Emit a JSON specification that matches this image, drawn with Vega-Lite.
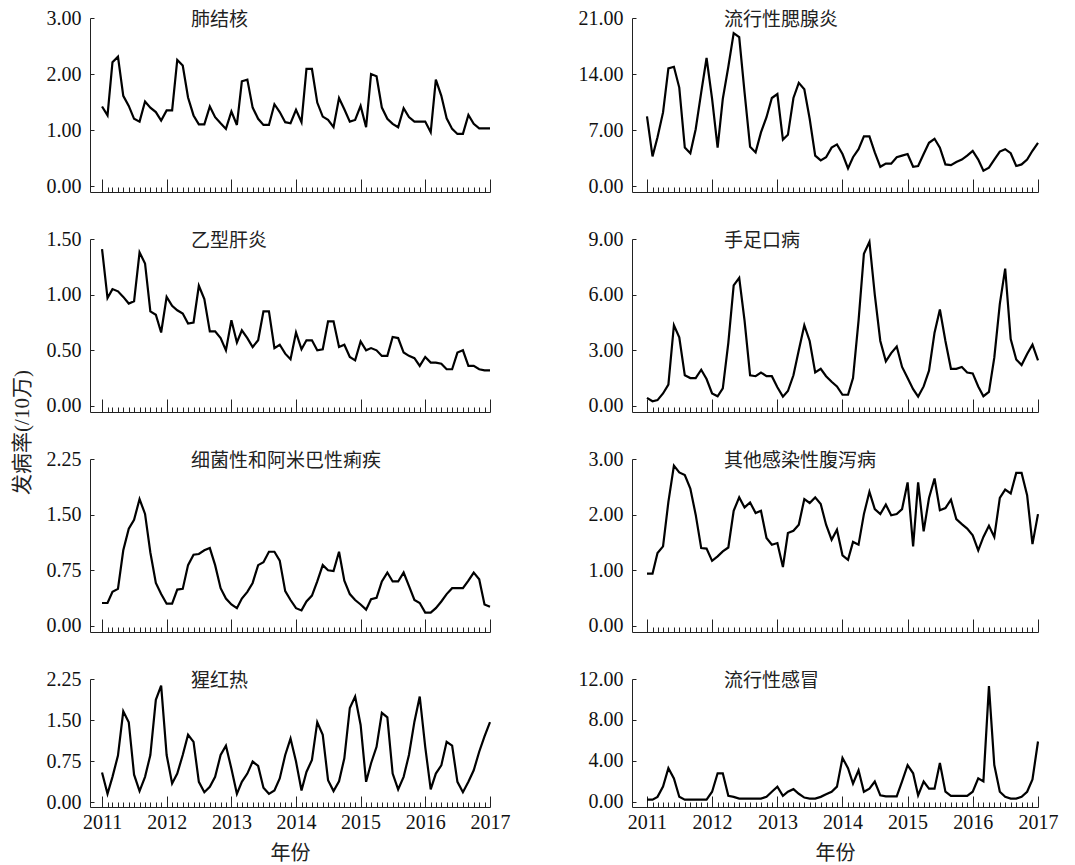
{
  "$schema": "https://vega.github.io/schema/vega-lite/v6.json",
  "background": "white",
  "padding": {"left": 11, "top": 8, "right": 5, "bottom": 0},
  "config": {
    "view": {"stroke": null},
    "font": "Liberation Serif, Times New Roman, serif",
    "axis": {"grid": false, "domainColor": "#222", "tickColor": "#222", "domainWidth": 1, "tickWidth": 1, "labelColor": "#111", "labelFont": "Liberation Serif, Times New Roman, serif", "labelFontSize": 20, "titleFont": "Liberation Serif, Noto Sans CJK SC", "titleFontSize": 20, "titleFontWeight": "normal", "titleColor": "#222"},
    "title": {"font": "Noto Sans CJK SC", "fontSize": 19, "fontWeight": "normal", "color": "#222", "anchor": "start", "frame": "group", "offset": -22, "baseline": "alphabetic"},
    "line": {"color": "black", "strokeWidth": 2.2}
  },
  "datasets": {
    "fjh": [
      {"t":"2011-01","v":1.42},{"t":"2011-02","v":1.26},{"t":"2011-03","v":2.21},{"t":"2011-04","v":2.31},{"t":"2011-05","v":1.61},{"t":"2011-06","v":1.43},{"t":"2011-07","v":1.20},{"t":"2011-08","v":1.15},{"t":"2011-09","v":1.51},{"t":"2011-10","v":1.40},{"t":"2011-11","v":1.32},{"t":"2011-12","v":1.17},
      {"t":"2012-01","v":1.35},{"t":"2012-02","v":1.35},{"t":"2012-03","v":2.25},{"t":"2012-04","v":2.15},{"t":"2012-05","v":1.58},{"t":"2012-06","v":1.26},{"t":"2012-07","v":1.10},{"t":"2012-08","v":1.10},{"t":"2012-09","v":1.42},{"t":"2012-10","v":1.23},{"t":"2012-11","v":1.12},{"t":"2012-12","v":1.02},
      {"t":"2013-01","v":1.33},{"t":"2013-02","v":1.09},{"t":"2013-03","v":1.87},{"t":"2013-04","v":1.90},{"t":"2013-05","v":1.40},{"t":"2013-06","v":1.20},{"t":"2013-07","v":1.09},{"t":"2013-08","v":1.09},{"t":"2013-09","v":1.46},{"t":"2013-10","v":1.32},{"t":"2013-11","v":1.14},{"t":"2013-12","v":1.12},
      {"t":"2014-01","v":1.36},{"t":"2014-02","v":1.14},{"t":"2014-03","v":2.09},{"t":"2014-04","v":2.09},{"t":"2014-05","v":1.49},{"t":"2014-06","v":1.24},{"t":"2014-07","v":1.18},{"t":"2014-08","v":1.05},{"t":"2014-09","v":1.57},{"t":"2014-10","v":1.37},{"t":"2014-11","v":1.15},{"t":"2014-12","v":1.18},
      {"t":"2015-01","v":1.43},{"t":"2015-02","v":1.05},{"t":"2015-03","v":2.00},{"t":"2015-04","v":1.96},{"t":"2015-05","v":1.40},{"t":"2015-06","v":1.20},{"t":"2015-07","v":1.11},{"t":"2015-08","v":1.05},{"t":"2015-09","v":1.39},{"t":"2015-10","v":1.23},{"t":"2015-11","v":1.15},{"t":"2015-12","v":1.15},
      {"t":"2016-01","v":1.15},{"t":"2016-02","v":0.96},{"t":"2016-03","v":1.90},{"t":"2016-04","v":1.61},{"t":"2016-05","v":1.21},{"t":"2016-06","v":1.02},{"t":"2016-07","v":0.93},{"t":"2016-08","v":0.93},{"t":"2016-09","v":1.27},{"t":"2016-10","v":1.11},{"t":"2016-11","v":1.03},{"t":"2016-12","v":1.03},
      {"t":"2017-01","v":1.03}
    ],
    "lx": [
      {"t":"2011-01","v":8.7},{"t":"2011-02","v":3.7},{"t":"2011-03","v":6.1},{"t":"2011-04","v":9.2},{"t":"2011-05","v":14.7},{"t":"2011-06","v":14.9},{"t":"2011-07","v":12.3},{"t":"2011-08","v":4.8},{"t":"2011-09","v":4.1},{"t":"2011-10","v":7.1},{"t":"2011-11","v":11.7},{"t":"2011-12","v":16.0},
      {"t":"2012-01","v":10.9},{"t":"2012-02","v":4.8},{"t":"2012-03","v":10.9},{"t":"2012-04","v":14.9},{"t":"2012-05","v":19.1},{"t":"2012-06","v":18.6},{"t":"2012-07","v":11.7},{"t":"2012-08","v":4.9},{"t":"2012-09","v":4.2},{"t":"2012-10","v":6.7},{"t":"2012-11","v":8.6},{"t":"2012-12","v":11.0},
      {"t":"2013-01","v":11.5},{"t":"2013-02","v":5.8},{"t":"2013-03","v":6.4},{"t":"2013-04","v":11.0},{"t":"2013-05","v":12.9},{"t":"2013-06","v":12.1},{"t":"2013-07","v":8.4},{"t":"2013-08","v":3.8},{"t":"2013-09","v":3.2},{"t":"2013-10","v":3.6},{"t":"2013-11","v":4.8},{"t":"2013-12","v":5.2},
      {"t":"2014-01","v":4.0},{"t":"2014-02","v":2.2},{"t":"2014-03","v":3.6},{"t":"2014-04","v":4.6},{"t":"2014-05","v":6.2},{"t":"2014-06","v":6.2},{"t":"2014-07","v":4.2},{"t":"2014-08","v":2.4},{"t":"2014-09","v":2.8},{"t":"2014-10","v":2.8},{"t":"2014-11","v":3.6},{"t":"2014-12","v":3.8},
      {"t":"2015-01","v":4.0},{"t":"2015-02","v":2.4},{"t":"2015-03","v":2.5},{"t":"2015-04","v":4.0},{"t":"2015-05","v":5.4},{"t":"2015-06","v":5.9},{"t":"2015-07","v":4.8},{"t":"2015-08","v":2.7},{"t":"2015-09","v":2.6},{"t":"2015-10","v":3.0},{"t":"2015-11","v":3.3},{"t":"2015-12","v":3.8},
      {"t":"2016-01","v":4.4},{"t":"2016-02","v":3.3},{"t":"2016-03","v":1.9},{"t":"2016-04","v":2.3},{"t":"2016-05","v":3.3},{"t":"2016-06","v":4.3},{"t":"2016-07","v":4.6},{"t":"2016-08","v":4.1},{"t":"2016-09","v":2.5},{"t":"2016-10","v":2.7},{"t":"2016-11","v":3.3},{"t":"2016-12","v":4.4},
      {"t":"2017-01","v":5.4}
    ],
    "yx": [
      {"t":"2011-01","v":1.41},{"t":"2011-02","v":0.97},{"t":"2011-03","v":1.05},{"t":"2011-04","v":1.03},{"t":"2011-05","v":0.98},{"t":"2011-06","v":0.92},{"t":"2011-07","v":0.94},{"t":"2011-08","v":1.38},{"t":"2011-09","v":1.28},{"t":"2011-10","v":0.85},{"t":"2011-11","v":0.82},{"t":"2011-12","v":0.66},
      {"t":"2012-01","v":0.98},{"t":"2012-02","v":0.90},{"t":"2012-03","v":0.86},{"t":"2012-04","v":0.83},{"t":"2012-05","v":0.74},{"t":"2012-06","v":0.75},{"t":"2012-07","v":1.08},{"t":"2012-08","v":0.96},{"t":"2012-09","v":0.67},{"t":"2012-10","v":0.67},{"t":"2012-11","v":0.61},{"t":"2012-12","v":0.50},
      {"t":"2013-01","v":0.77},{"t":"2013-02","v":0.57},{"t":"2013-03","v":0.68},{"t":"2013-04","v":0.61},{"t":"2013-05","v":0.53},{"t":"2013-06","v":0.59},{"t":"2013-07","v":0.85},{"t":"2013-08","v":0.85},{"t":"2013-09","v":0.52},{"t":"2013-10","v":0.55},{"t":"2013-11","v":0.47},{"t":"2013-12","v":0.42},
      {"t":"2014-01","v":0.66},{"t":"2014-02","v":0.51},{"t":"2014-03","v":0.59},{"t":"2014-04","v":0.59},{"t":"2014-05","v":0.50},{"t":"2014-06","v":0.51},{"t":"2014-07","v":0.76},{"t":"2014-08","v":0.76},{"t":"2014-09","v":0.53},{"t":"2014-10","v":0.55},{"t":"2014-11","v":0.44},{"t":"2014-12","v":0.41},
      {"t":"2015-01","v":0.58},{"t":"2015-02","v":0.50},{"t":"2015-03","v":0.52},{"t":"2015-04","v":0.50},{"t":"2015-05","v":0.45},{"t":"2015-06","v":0.45},{"t":"2015-07","v":0.62},{"t":"2015-08","v":0.61},{"t":"2015-09","v":0.48},{"t":"2015-10","v":0.45},{"t":"2015-11","v":0.43},{"t":"2015-12","v":0.36},
      {"t":"2016-01","v":0.44},{"t":"2016-02","v":0.39},{"t":"2016-03","v":0.39},{"t":"2016-04","v":0.38},{"t":"2016-05","v":0.33},{"t":"2016-06","v":0.33},{"t":"2016-07","v":0.48},{"t":"2016-08","v":0.50},{"t":"2016-09","v":0.36},{"t":"2016-10","v":0.36},{"t":"2016-11","v":0.33},{"t":"2016-12","v":0.32},
      {"t":"2017-01","v":0.32}
    ],
    "sz": [
      {"t":"2011-01","v":0.43},{"t":"2011-02","v":0.25},{"t":"2011-03","v":0.31},{"t":"2011-04","v":0.67},{"t":"2011-05","v":1.15},{"t":"2011-06","v":4.35},{"t":"2011-07","v":3.7},{"t":"2011-08","v":1.65},{"t":"2011-09","v":1.5},{"t":"2011-10","v":1.5},{"t":"2011-11","v":1.95},{"t":"2011-12","v":1.45},
      {"t":"2012-01","v":0.67},{"t":"2012-02","v":0.52},{"t":"2012-03","v":0.95},{"t":"2012-04","v":3.4},{"t":"2012-05","v":6.5},{"t":"2012-06","v":6.9},{"t":"2012-07","v":4.6},{"t":"2012-08","v":1.65},{"t":"2012-09","v":1.6},{"t":"2012-10","v":1.8},{"t":"2012-11","v":1.6},{"t":"2012-12","v":1.6},
      {"t":"2013-01","v":1.0},{"t":"2013-02","v":0.5},{"t":"2013-03","v":0.8},{"t":"2013-04","v":1.65},{"t":"2013-05","v":3.0},{"t":"2013-06","v":4.35},{"t":"2013-07","v":3.5},{"t":"2013-08","v":1.8},{"t":"2013-09","v":2.0},{"t":"2013-10","v":1.6},{"t":"2013-11","v":1.3},{"t":"2013-12","v":1.05},
      {"t":"2014-01","v":0.6},{"t":"2014-02","v":0.6},{"t":"2014-03","v":1.5},{"t":"2014-04","v":4.6},{"t":"2014-05","v":8.2},{"t":"2014-06","v":8.85},{"t":"2014-07","v":6.0},{"t":"2014-08","v":3.5},{"t":"2014-09","v":2.4},{"t":"2014-10","v":2.85},{"t":"2014-11","v":3.2},{"t":"2014-12","v":2.1},
      {"t":"2015-01","v":1.5},{"t":"2015-02","v":0.9},{"t":"2015-03","v":0.5},{"t":"2015-04","v":1.05},{"t":"2015-05","v":1.9},{"t":"2015-06","v":3.95},{"t":"2015-07","v":5.2},{"t":"2015-08","v":3.5},{"t":"2015-09","v":2.0},{"t":"2015-10","v":2.0},{"t":"2015-11","v":2.1},{"t":"2015-12","v":1.8},
      {"t":"2016-01","v":1.75},{"t":"2016-02","v":1.05},{"t":"2016-03","v":0.52},{"t":"2016-04","v":0.75},{"t":"2016-05","v":2.6},{"t":"2016-06","v":5.5},{"t":"2016-07","v":7.4},{"t":"2016-08","v":3.6},{"t":"2016-09","v":2.5},{"t":"2016-10","v":2.2},{"t":"2016-11","v":2.8},{"t":"2016-12","v":3.3},
      {"t":"2017-01","v":2.45}
    ],
    "lj": [
      {"t":"2011-01","v":0.31},{"t":"2011-02","v":0.31},{"t":"2011-03","v":0.46},{"t":"2011-04","v":0.50},{"t":"2011-05","v":1.02},{"t":"2011-06","v":1.31},{"t":"2011-07","v":1.43},{"t":"2011-08","v":1.71},{"t":"2011-09","v":1.51},{"t":"2011-10","v":0.99},{"t":"2011-11","v":0.58},{"t":"2011-12","v":0.43},
      {"t":"2012-01","v":0.30},{"t":"2012-02","v":0.30},{"t":"2012-03","v":0.49},{"t":"2012-04","v":0.50},{"t":"2012-05","v":0.82},{"t":"2012-06","v":0.96},{"t":"2012-07","v":0.97},{"t":"2012-08","v":1.02},{"t":"2012-09","v":1.05},{"t":"2012-10","v":0.82},{"t":"2012-11","v":0.51},{"t":"2012-12","v":0.37},
      {"t":"2013-01","v":0.29},{"t":"2013-02","v":0.24},{"t":"2013-03","v":0.37},{"t":"2013-04","v":0.46},{"t":"2013-05","v":0.58},{"t":"2013-06","v":0.82},{"t":"2013-07","v":0.86},{"t":"2013-08","v":1.00},{"t":"2013-09","v":1.00},{"t":"2013-10","v":0.88},{"t":"2013-11","v":0.47},{"t":"2013-12","v":0.35},
      {"t":"2014-01","v":0.24},{"t":"2014-02","v":0.21},{"t":"2014-03","v":0.33},{"t":"2014-04","v":0.41},{"t":"2014-05","v":0.60},{"t":"2014-06","v":0.82},{"t":"2014-07","v":0.75},{"t":"2014-08","v":0.74},{"t":"2014-09","v":1.00},{"t":"2014-10","v":0.61},{"t":"2014-11","v":0.43},{"t":"2014-12","v":0.35},
      {"t":"2015-01","v":0.29},{"t":"2015-02","v":0.22},{"t":"2015-03","v":0.36},{"t":"2015-04","v":0.38},{"t":"2015-05","v":0.60},{"t":"2015-06","v":0.72},{"t":"2015-07","v":0.60},{"t":"2015-08","v":0.60},{"t":"2015-09","v":0.72},{"t":"2015-10","v":0.54},{"t":"2015-11","v":0.35},{"t":"2015-12","v":0.31},
      {"t":"2016-01","v":0.18},{"t":"2016-02","v":0.18},{"t":"2016-03","v":0.24},{"t":"2016-04","v":0.33},{"t":"2016-05","v":0.43},{"t":"2016-06","v":0.51},{"t":"2016-07","v":0.51},{"t":"2016-08","v":0.51},{"t":"2016-09","v":0.61},{"t":"2016-10","v":0.72},{"t":"2016-11","v":0.63},{"t":"2016-12","v":0.29},
      {"t":"2017-01","v":0.26}
    ],
    "fx": [
      {"t":"2011-01","v":0.94},{"t":"2011-02","v":0.94},{"t":"2011-03","v":1.31},{"t":"2011-04","v":1.43},{"t":"2011-05","v":2.23},{"t":"2011-06","v":2.88},{"t":"2011-07","v":2.76},{"t":"2011-08","v":2.71},{"t":"2011-09","v":2.47},{"t":"2011-10","v":2.00},{"t":"2011-11","v":1.40},{"t":"2011-12","v":1.39},
      {"t":"2012-01","v":1.17},{"t":"2012-02","v":1.25},{"t":"2012-03","v":1.34},{"t":"2012-04","v":1.41},{"t":"2012-05","v":2.07},{"t":"2012-06","v":2.31},{"t":"2012-07","v":2.13},{"t":"2012-08","v":2.22},{"t":"2012-09","v":2.03},{"t":"2012-10","v":2.07},{"t":"2012-11","v":1.58},{"t":"2012-12","v":1.46},
      {"t":"2013-01","v":1.49},{"t":"2013-02","v":1.06},{"t":"2013-03","v":1.67},{"t":"2013-04","v":1.71},{"t":"2013-05","v":1.82},{"t":"2013-06","v":2.28},{"t":"2013-07","v":2.21},{"t":"2013-08","v":2.31},{"t":"2013-09","v":2.19},{"t":"2013-10","v":1.82},{"t":"2013-11","v":1.55},{"t":"2013-12","v":1.73},
      {"t":"2014-01","v":1.27},{"t":"2014-02","v":1.19},{"t":"2014-03","v":1.51},{"t":"2014-04","v":1.46},{"t":"2014-05","v":2.01},{"t":"2014-06","v":2.41},{"t":"2014-07","v":2.10},{"t":"2014-08","v":2.01},{"t":"2014-09","v":2.18},{"t":"2014-10","v":1.99},{"t":"2014-11","v":2.01},{"t":"2014-12","v":2.10},
      {"t":"2015-01","v":2.58},{"t":"2015-02","v":1.43},{"t":"2015-03","v":2.58},{"t":"2015-04","v":1.70},{"t":"2015-05","v":2.30},{"t":"2015-06","v":2.65},{"t":"2015-07","v":2.08},{"t":"2015-08","v":2.12},{"t":"2015-09","v":2.27},{"t":"2015-10","v":1.92},{"t":"2015-11","v":1.83},{"t":"2015-12","v":1.75},
      {"t":"2016-01","v":1.63},{"t":"2016-02","v":1.36},{"t":"2016-03","v":1.60},{"t":"2016-04","v":1.80},{"t":"2016-05","v":1.60},{"t":"2016-06","v":2.30},{"t":"2016-07","v":2.45},{"t":"2016-08","v":2.38},{"t":"2016-09","v":2.75},{"t":"2016-10","v":2.75},{"t":"2016-11","v":2.35},{"t":"2016-12","v":1.47},
      {"t":"2017-01","v":2.01}
    ],
    "xhr": [
      {"t":"2011-01","v":0.54},{"t":"2011-02","v":0.15},{"t":"2011-03","v":0.46},{"t":"2011-04","v":0.85},{"t":"2011-05","v":1.66},{"t":"2011-06","v":1.46},{"t":"2011-07","v":0.50},{"t":"2011-08","v":0.20},{"t":"2011-09","v":0.46},{"t":"2011-10","v":0.86},{"t":"2011-11","v":1.87},{"t":"2011-12","v":2.13},
      {"t":"2012-01","v":0.86},{"t":"2012-02","v":0.34},{"t":"2012-03","v":0.52},{"t":"2012-04","v":0.86},{"t":"2012-05","v":1.23},{"t":"2012-06","v":1.10},{"t":"2012-07","v":0.37},{"t":"2012-08","v":0.18},{"t":"2012-09","v":0.28},{"t":"2012-10","v":0.46},{"t":"2012-11","v":0.86},{"t":"2012-12","v":1.03},
      {"t":"2013-01","v":0.61},{"t":"2013-02","v":0.15},{"t":"2013-03","v":0.37},{"t":"2013-04","v":0.52},{"t":"2013-05","v":0.74},{"t":"2013-06","v":0.66},{"t":"2013-07","v":0.26},{"t":"2013-08","v":0.15},{"t":"2013-09","v":0.21},{"t":"2013-10","v":0.43},{"t":"2013-11","v":0.86},{"t":"2013-12","v":1.16},
      {"t":"2014-01","v":0.74},{"t":"2014-02","v":0.21},{"t":"2014-03","v":0.55},{"t":"2014-04","v":0.77},{"t":"2014-05","v":1.46},{"t":"2014-06","v":1.23},{"t":"2014-07","v":0.40},{"t":"2014-08","v":0.20},{"t":"2014-09","v":0.38},{"t":"2014-10","v":0.80},{"t":"2014-11","v":1.72},{"t":"2014-12","v":1.93},
      {"t":"2015-01","v":1.41},{"t":"2015-02","v":0.37},{"t":"2015-03","v":0.71},{"t":"2015-04","v":1.01},{"t":"2015-05","v":1.63},{"t":"2015-06","v":1.55},{"t":"2015-07","v":0.52},{"t":"2015-08","v":0.23},{"t":"2015-09","v":0.46},{"t":"2015-10","v":0.86},{"t":"2015-11","v":1.47},{"t":"2015-12","v":1.93},
      {"t":"2016-01","v":1.01},{"t":"2016-02","v":0.23},{"t":"2016-03","v":0.52},{"t":"2016-04","v":0.67},{"t":"2016-05","v":1.10},{"t":"2016-06","v":1.03},{"t":"2016-07","v":0.37},{"t":"2016-08","v":0.18},{"t":"2016-09","v":0.37},{"t":"2016-10","v":0.58},{"t":"2016-11","v":0.92},{"t":"2016-12","v":1.20},
      {"t":"2017-01","v":1.46}
    ],
    "lg": [
      {"t":"2011-01","v":0.23},{"t":"2011-02","v":0.23},{"t":"2011-03","v":0.5},{"t":"2011-04","v":1.5},{"t":"2011-05","v":3.3},{"t":"2011-06","v":2.3},{"t":"2011-07","v":0.5},{"t":"2011-08","v":0.23},{"t":"2011-09","v":0.23},{"t":"2011-10","v":0.23},{"t":"2011-11","v":0.23},{"t":"2011-12","v":0.23},
      {"t":"2012-01","v":1.0},{"t":"2012-02","v":2.8},{"t":"2012-03","v":2.8},{"t":"2012-04","v":0.6},{"t":"2012-05","v":0.5},{"t":"2012-06","v":0.33},{"t":"2012-07","v":0.33},{"t":"2012-08","v":0.33},{"t":"2012-09","v":0.33},{"t":"2012-10","v":0.33},{"t":"2012-11","v":0.5},{"t":"2012-12","v":1.0},
      {"t":"2013-01","v":1.5},{"t":"2013-02","v":0.6},{"t":"2013-03","v":1.0},{"t":"2013-04","v":1.25},{"t":"2013-05","v":0.8},{"t":"2013-06","v":0.43},{"t":"2013-07","v":0.33},{"t":"2013-08","v":0.33},{"t":"2013-09","v":0.5},{"t":"2013-10","v":0.75},{"t":"2013-11","v":1.0},{"t":"2013-12","v":1.5},
      {"t":"2014-01","v":4.3},{"t":"2014-02","v":3.3},{"t":"2014-03","v":1.8},{"t":"2014-04","v":3.1},{"t":"2014-05","v":1.0},{"t":"2014-06","v":1.3},{"t":"2014-07","v":2.0},{"t":"2014-08","v":0.65},{"t":"2014-09","v":0.55},{"t":"2014-10","v":0.55},{"t":"2014-11","v":0.55},{"t":"2014-12","v":2.0},
      {"t":"2015-01","v":3.6},{"t":"2015-02","v":2.8},{"t":"2015-03","v":0.65},{"t":"2015-04","v":2.0},{"t":"2015-05","v":1.3},{"t":"2015-06","v":1.3},{"t":"2015-07","v":3.8},{"t":"2015-08","v":1.0},{"t":"2015-09","v":0.6},{"t":"2015-10","v":0.6},{"t":"2015-11","v":0.6},{"t":"2015-12","v":0.6},
      {"t":"2016-01","v":1.0},{"t":"2016-02","v":2.3},{"t":"2016-03","v":2.0},{"t":"2016-04","v":11.3},{"t":"2016-05","v":3.6},{"t":"2016-06","v":1.0},{"t":"2016-07","v":0.5},{"t":"2016-08","v":0.33},{"t":"2016-09","v":0.33},{"t":"2016-10","v":0.5},{"t":"2016-11","v":1.0},{"t":"2016-12","v":2.2},
      {"t":"2017-01","v":5.9}
    ]
  },
  "columns": 2,
  "bounds": "flush",
  "align": "each",
  "spacing": {"row": 47, "column": 142},
  "concat": [
    {
      "width": 400, "height": 174,
      "data": {"name": "fjh"},
      "title": {"text": "肺结核", "dx": 101},
      "mark": {"type": "line"},
      "encoding": {
        "x": {"field": "t", "type": "temporal",
          "scale": {"type": "utc", "domain": [{"year": 2010, "month": 10, "date": 25, "utc": true}, {"year": 2017, "month": 1, "date": 1, "utc": true}]},
          "axis": {"title": null, "labels": false, "tickCount": {"interval": "month", "step": 1},
            "tickSize": {"condition": {"test": "utcmonth(datum.value) === 0", "value": -13}, "value": -5},
            "tickOpacity": {"condition": {"test": "utcyear(datum.value) < 2011", "value": 0}, "value": 1}}},
        "y": {"field": "v", "type": "quantitative", "scale": {"domain": [-0.107, 3], "nice": false, "zero": false},
          "axis": {"values": [0, 1, 2, 3], "format": ".2f", "title": null, "tickSize": -4, "labelPadding": 13}}
      }
    },
    {
      "width": 406, "height": 174,
      "data": {"name": "lx"},
      "title": {"text": "流行性腮腺炎", "dx": 92},
      "mark": {"type": "line"},
      "encoding": {
        "x": {"field": "t", "type": "temporal",
          "scale": {"type": "utc", "domain": [{"year": 2010, "month": 10, "date": 9, "utc": true}, {"year": 2017, "month": 1, "date": 1, "utc": true}]},
          "axis": {"title": null, "labels": false, "tickCount": {"interval": "month", "step": 1},
            "tickSize": {"condition": {"test": "utcmonth(datum.value) === 0", "value": -13}, "value": -5},
            "tickOpacity": {"condition": {"test": "utcyear(datum.value) < 2011", "value": 0}, "value": 1}}},
        "y": {"field": "v", "type": "quantitative", "scale": {"domain": [-0.75, 21], "nice": false, "zero": false},
          "axis": {"values": [0, 7, 14, 21], "format": ".2f", "title": null, "tickSize": -4, "labelPadding": 13}}
      }
    },
    {
      "width": 400, "height": 173,
      "data": {"name": "yx"},
      "title": {"text": "乙型肝炎", "dx": 101},
      "mark": {"type": "line"},
      "encoding": {
        "x": {"field": "t", "type": "temporal",
          "scale": {"type": "utc", "domain": [{"year": 2010, "month": 10, "date": 25, "utc": true}, {"year": 2017, "month": 1, "date": 1, "utc": true}]},
          "axis": {"title": null, "labels": false, "tickCount": {"interval": "month", "step": 1},
            "tickSize": {"condition": {"test": "utcmonth(datum.value) === 0", "value": -13}, "value": -5},
            "tickOpacity": {"condition": {"test": "utcyear(datum.value) < 2011", "value": 0}, "value": 1}}},
        "y": {"field": "v", "type": "quantitative", "scale": {"domain": [-0.054, 1.5], "nice": false, "zero": false},
          "axis": {"values": [0, 0.5, 1, 1.5], "format": ".2f", "tickSize": -4, "labelPadding": 13,
            "title": "发病率(/10万)", "titleFontSize": 21, "titleX": -68, "titleY": 193, "titleAngle": 270, "titleAlign": "center", "titleBaseline": "middle"}}
      }
    },
    {
      "width": 406, "height": 173,
      "data": {"name": "sz"},
      "title": {"text": "手足口病", "dx": 92},
      "mark": {"type": "line"},
      "encoding": {
        "x": {"field": "t", "type": "temporal",
          "scale": {"type": "utc", "domain": [{"year": 2010, "month": 10, "date": 9, "utc": true}, {"year": 2017, "month": 1, "date": 1, "utc": true}]},
          "axis": {"title": null, "labels": false, "tickCount": {"interval": "month", "step": 1},
            "tickSize": {"condition": {"test": "utcmonth(datum.value) === 0", "value": -13}, "value": -5},
            "tickOpacity": {"condition": {"test": "utcyear(datum.value) < 2011", "value": 0}, "value": 1}}},
        "y": {"field": "v", "type": "quantitative", "scale": {"domain": [-0.33, 9], "nice": false, "zero": false},
          "axis": {"values": [0, 3, 6, 9], "format": ".2f", "title": null, "tickSize": -4, "labelPadding": 13}}
      }
    },
    {
      "width": 400, "height": 173,
      "data": {"name": "lj"},
      "title": {"text": "细菌性和阿米巴性痢疾", "dx": 101},
      "mark": {"type": "line"},
      "encoding": {
        "x": {"field": "t", "type": "temporal",
          "scale": {"type": "utc", "domain": [{"year": 2010, "month": 10, "date": 25, "utc": true}, {"year": 2017, "month": 1, "date": 1, "utc": true}]},
          "axis": {"title": null, "labels": false, "tickCount": {"interval": "month", "step": 1},
            "tickSize": {"condition": {"test": "utcmonth(datum.value) === 0", "value": -13}, "value": -5},
            "tickOpacity": {"condition": {"test": "utcyear(datum.value) < 2011", "value": 0}, "value": 1}}},
        "y": {"field": "v", "type": "quantitative", "scale": {"domain": [-0.081, 2.25], "nice": false, "zero": false},
          "axis": {"values": [0, 0.75, 1.5, 2.25], "format": ".2f", "title": null, "tickSize": -4, "labelPadding": 13}}
      }
    },
    {
      "width": 406, "height": 173,
      "data": {"name": "fx"},
      "title": {"text": "其他感染性腹泻病", "dx": 92},
      "mark": {"type": "line"},
      "encoding": {
        "x": {"field": "t", "type": "temporal",
          "scale": {"type": "utc", "domain": [{"year": 2010, "month": 10, "date": 9, "utc": true}, {"year": 2017, "month": 1, "date": 1, "utc": true}]},
          "axis": {"title": null, "labels": false, "tickCount": {"interval": "month", "step": 1},
            "tickSize": {"condition": {"test": "utcmonth(datum.value) === 0", "value": -13}, "value": -5},
            "tickOpacity": {"condition": {"test": "utcyear(datum.value) < 2011", "value": 0}, "value": 1}}},
        "y": {"field": "v", "type": "quantitative", "scale": {"domain": [-0.108, 3], "nice": false, "zero": false},
          "axis": {"values": [0, 1, 2, 3], "format": ".2f", "title": null, "tickSize": -4, "labelPadding": 13}}
      }
    },
    {
      "width": 400, "height": 128,
      "data": {"name": "xhr"},
      "title": {"text": "猩红热", "dx": 101},
      "mark": {"type": "line"},
      "encoding": {
        "x": {"field": "t", "type": "temporal",
          "scale": {"type": "utc", "domain": [{"year": 2010, "month": 10, "date": 25, "utc": true}, {"year": 2017, "month": 1, "date": 1, "utc": true}]},
          "axis": {"title": "年份", "titlePadding": 5, "tickCount": {"interval": "month", "step": 1},
            "labelExpr": "utcmonth(datum.value) === 0 && utcyear(datum.value) >= 2011 ? utcFormat(datum.value, '%Y') : ''",
            "labelOverlap": false, "labelFlush": false, "labelBound": false, "labelPadding": 16,
            "tickSize": {"condition": {"test": "utcmonth(datum.value) === 0", "value": -11}, "value": -5},
            "tickOpacity": {"condition": {"test": "utcyear(datum.value) < 2011", "value": 0}, "value": 1}}},
        "y": {"field": "v", "type": "quantitative", "scale": {"domain": [-0.091, 2.25], "nice": false, "zero": false},
          "axis": {"values": [0, 0.75, 1.5, 2.25], "format": ".2f", "title": null, "tickSize": -4, "labelPadding": 13}}
      }
    },
    {
      "width": 406, "height": 128,
      "data": {"name": "lg"},
      "title": {"text": "流行性感冒", "dx": 92},
      "mark": {"type": "line"},
      "encoding": {
        "x": {"field": "t", "type": "temporal",
          "scale": {"type": "utc", "domain": [{"year": 2010, "month": 10, "date": 9, "utc": true}, {"year": 2017, "month": 1, "date": 1, "utc": true}]},
          "axis": {"title": "年份", "titlePadding": 5, "tickCount": {"interval": "month", "step": 1},
            "labelExpr": "utcmonth(datum.value) === 0 && utcyear(datum.value) >= 2011 ? utcFormat(datum.value, '%Y') : ''",
            "labelOverlap": false, "labelFlush": false, "labelBound": false, "labelPadding": 16,
            "tickSize": {"condition": {"test": "utcmonth(datum.value) === 0", "value": -11}, "value": -5},
            "tickOpacity": {"condition": {"test": "utcyear(datum.value) < 2011", "value": 0}, "value": 1}}},
        "y": {"field": "v", "type": "quantitative", "scale": {"domain": [-0.49, 12], "nice": false, "zero": false},
          "axis": {"values": [0, 4, 8, 12], "format": ".2f", "title": null, "tickSize": -4, "labelPadding": 13}}
      }
    }
  ]
}
